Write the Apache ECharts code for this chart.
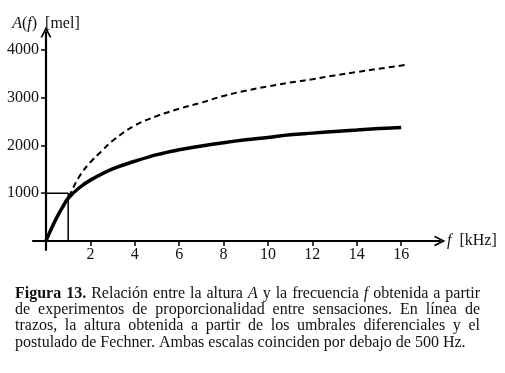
<!DOCTYPE html>
<html>
<head>
<meta charset="utf-8">
<script src="https://cdn.jsdelivr.net/npm/echarts@6/dist/echarts.min.js"></script>
<style>
html,body{margin:0;padding:0;background:#fff;}
#chart{width:505px;height:373px;}
</style>
</head>
<body>
<div id="chart"></div>
<script>
// ---- data ----
const freqSolid = [0, 0.25, 0.5, 0.75, 1, 1.5, 2, 3, 4, 5, 6, 7, 8, 9, 10, 11, 12, 13, 14, 15, 16];
const melSolid  = [0, 265, 505, 710, 895, 1115, 1275, 1510, 1670, 1810, 1910, 1990, 2060, 2120, 2170, 2225, 2260, 2295, 2325, 2355, 2380];
const freqDashed = [0, 0.25, 0.5, 0.75, 1, 1.5, 2, 2.5, 3, 4, 5, 6, 7, 8, 9, 10, 11, 12, 13, 14, 15, 16.2];
const melDashed  = [0, 265, 505, 710, 905, 1350, 1650, 1880, 2100, 2420, 2620, 2770, 2900, 3040, 3150, 3240, 3320, 3390, 3470, 3540, 3610, 3690];
const refFreq = [0, 1, 1];
const refMel  = [1000, 1000, 0];
const xTicks = [2, 4, 6, 8, 10, 12, 14, 16];
const yTicks = [1000, 2000, 3000, 4000];
const captionLines = [
  "**Figura** **13.** Relación entre la altura _A_ y la frecuencia _f_ obtenida a partir",
  "de experimentos de proporcionalidad entre sensaciones. En línea de",
  "trazos, la altura obtenida a partir de los umbrales diferenciales y el",
  "postulado de Fechner. Ambas escalas coinciden por debajo de 500 Hz."
];

const FONT = 'Liberation Serif';
const TXT = '#111';
const chart = echarts.init(document.getElementById('chart'), null, {renderer: 'canvas'});

const chevron = 'path://M0,12 L6,0 L12,12 L10,12 L6,4 L2,12 Z';

// caption layout (justified)
const ctx = document.createElement('canvas').getContext('2d');
const capSize = 16;
function fontFor(w) {
  const st = w.b ? 'bold ' : (w.i ? 'italic ' : '');
  return st + capSize + 'px "' + FONT + '"';
}
function parseWord(s) {
  if (s.startsWith('**')) return {t: s.replace(/\*\*/g, ''), b: true};
  if (s.startsWith('_')) return {t: s.replace(/_/g, ''), i: true};
  return {t: s};
}
const capLeft = 15, capRight = 480;
const capY = [295, 311, 327, 344];
const graphics = [];
captionLines.forEach((line, li) => {
  const words = line.split(' ').map(parseWord);
  words.forEach(w => { ctx.font = fontFor(w); w.w = ctx.measureText(w.t).width; });
  const total = words.reduce((a, w) => a + w.w, 0);
  ctx.font = capSize + 'px "' + FONT + '"';
  let gap = ctx.measureText(' ').width;
  if (li < captionLines.length - 1) gap = (capRight - capLeft - total) / (words.length - 1);
  let x = capLeft;
  words.forEach(w => {
    graphics.push({
      type: 'text', left: x, top: capY[li] - capSize / 2 - 1,
      style: {
        text: w.t, fill: TXT, fontFamily: FONT, fontSize: capSize,
        fontWeight: w.b ? 'bold' : 'normal', fontStyle: w.i ? 'italic' : 'normal'
      }
    });
    x += w.w + gap;
  });
});

const option = {
  animation: false,
  backgroundColor: '#fff',
  grid: {left: 33, right: 65, top: 32, bottom: 123, containLabel: false, outerBoundsMode: 'none'},
  xAxis: {
    type: 'value', min: -0.585, max: 17.75,
    axisLine: {onZero: true, symbol: ['none', chevron], symbolSize: [11, 12],
               lineStyle: {color: '#000', width: 2.2}},
    axisTick: {show: true, customValues: xTicks, length: 5, lineStyle: {color: '#000', width: 1.5}},
    axisLabel: {customValues: xTicks, fontFamily: FONT, fontSize: 16, color: TXT, margin: -3},
    splitLine: {show: false},
    name: '{i|f}  [kHz]', nameLocation: 'end', nameGap: 7,
    nameTextStyle: {fontFamily: FONT, fontSize: 16, color: TXT, verticalAlign: 'middle',
      rich: {i: {fontFamily: FONT, fontSize: 16, fontStyle: 'italic', color: TXT}}}
  },
  yAxis: {
    type: 'value', min: -190, max: 4380,
    axisLine: {onZero: true, symbol: ['none', chevron], symbolSize: [11, 12],
               lineStyle: {color: '#000', width: 2.2}},
    axisTick: {show: true, customValues: yTicks, length: 5, lineStyle: {color: '#000', width: 1.5}},
    axisLabel: {customValues: yTicks, fontFamily: FONT, fontSize: 16, color: TXT, margin: -6,
                formatter: v => String(v)},
    splitLine: {show: false},
    name: '{i|A}({i|f})  [mel]', nameLocation: 'end', nameGap: 0,
    nameTextStyle: {fontFamily: FONT, fontSize: 16, color: TXT, align: 'center',
      rich: {i: {fontFamily: FONT, fontSize: 16, fontStyle: 'italic', color: TXT}}}
  },
  series: [
    {
      type: 'line', name: 'ref', data: refFreq.map((f, i) => [f, refMel[i]]),
      symbol: 'none', lineStyle: {color: '#000', width: 1.5}, z: 1
    },
    {
      type: 'line', name: 'dashed', data: freqDashed.map((f, i) => [f, melDashed[i]]),
      smooth: 0.4, symbol: 'none', lineStyle: {color: '#000', width: 2, type: [6, 4]}, z: 2
    },
    {
      type: 'line', name: 'solid', data: freqSolid.map((f, i) => [f, melSolid[i]]),
      smooth: 0.4, symbol: 'none', lineStyle: {color: '#000', width: 3.5}, z: 3
    }
  ],
  graphic: graphics
};
chart.setOption(option);
</script>
</body>
</html>
